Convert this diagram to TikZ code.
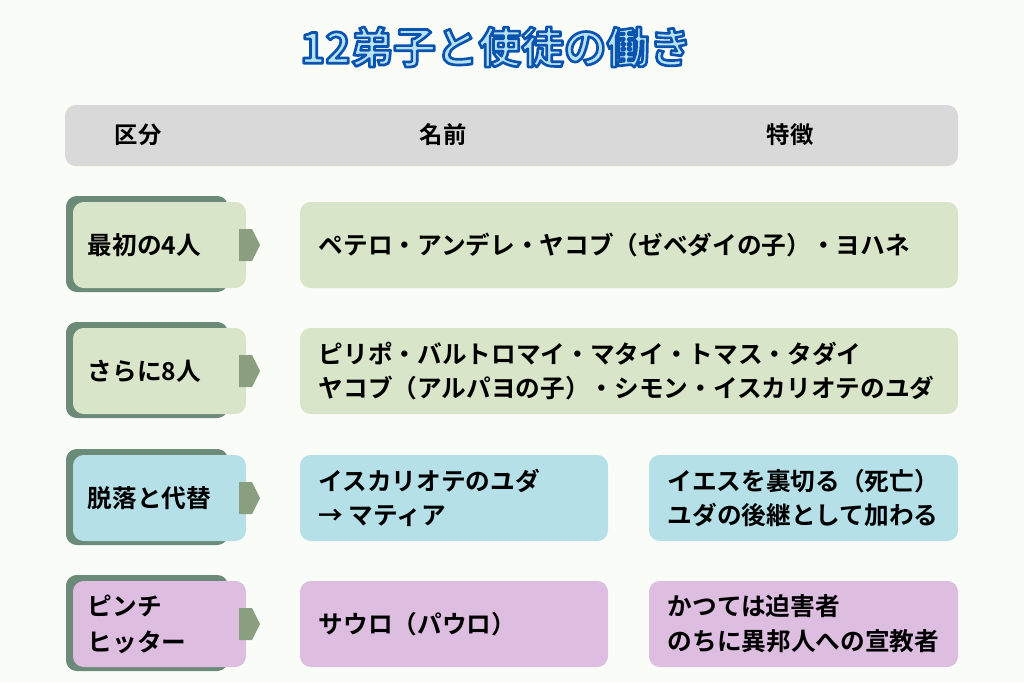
\documentclass[tikz,border=0pt]{standalone}
\usepackage{fontspec}
\setmainfont{Noto Sans CJK JP}[BoldFont={* Bold}]
\newfontfamily\cjk{Noto Sans CJK JP Bold}
\definecolor{bgc}{HTML}{FAFCF8}
\definecolor{headc}{HTML}{D9D9D9}
\definecolor{greenc}{HTML}{D9E5C8}
\definecolor{bluec}{HTML}{B5E0E8}
\definecolor{purplec}{HTML}{DDBDE0}
\definecolor{shadowc}{HTML}{6B8A78}
\definecolor{tabc}{HTML}{8A9E80}
\definecolor{titlelight}{HTML}{B8E2F2}
\newcommand{\outlined}[1]{\special{pdf:literal 2 Tr 2 w 1 j 0.04 0.33 0.69 RG}#1\special{pdf:literal 0 Tr 0 0 0 RG}}
\tikzset{
  box/.style={rounded corners=8pt, draw=none},
  label/.style={font=\cjk\fontsize{18.5}{26}\selectfont, anchor=west, align=left},
  tablabel/.style={font=\cjk\fontsize{18.5}{27}\selectfont, anchor=west, align=left},
}
\begin{document}
\begin{tikzpicture}[x=0.75pt, y=-0.75pt]
    % Background
    \fill [bgc] (0, 0) rectangle (1024, 682);
    \useasboundingbox (0, 0) rectangle (1024, 682);

    % Title
    \node [font=\cjk\fontsize{32}{36}\selectfont, titlelight] (title) at (496, 47) {\outlined{12弟子と使徒の働き}};

    % Header
    \fill [box, headc] (65, 105) rectangle (958, 166);
    \node [font=\cjk\fontsize{17.5}{20}\selectfont] (h1) at (138, 135) {区分};
    \node [font=\cjk\fontsize{17.5}{20}\selectfont] (h2) at (443, 135) {名前};
    \node [font=\cjk\fontsize{17.5}{20}\selectfont] (h3) at (790, 135) {特徴};

    % Rows: centre y / colour
    \foreach \y/\c in {245/greenc, 371/greenc, 498/bluec, 624/purplec} {
        \fill [box, shadowc] (66, \y-49) rectangle (228, \y+47);
        \fill [box, \c] (73, \y-43) rectangle (246, \y+43);
        \fill [tabc] (239, \y-16) -- (252, \y-16) -- (260, \y) -- (252, \y+16) -- (239, \y+16) -- cycle;
    }
    \fill [box, greenc] (300, 202) rectangle (958, 288);
    \fill [box, greenc] (300, 328) rectangle (958, 414);
    \fill [box, bluec] (300, 455) rectangle (608, 541);
    \fill [box, bluec] (649, 455) rectangle (958, 541);
    \fill [box, purplec] (300, 581) rectangle (608, 667);
    \fill [box, purplec] (649, 581) rectangle (958, 667);

    % Category labels
    \node [tablabel] (c1) at (83, 245) {最初の4人};
    \node [tablabel] (c2) at (83, 371) {さらに8人};
    \node [tablabel] (c3) at (83, 498) {脱落と代替};
    \node [tablabel] (c4) at (83, 624) {ピンチ\\ヒッター};

    % Names and notes
    \node [label] (n1) at (314, 245) {ペテロ・アンデレ・ヤコブ（ゼベダイの子）・ヨハネ};
    \node [label] (n2) at (314, 371) {ピリポ・バルトロマイ・マタイ・トマス・タダイ\\ヤコブ（アルパヨの子）・シモン・イスカリオテのユダ};
    \node [label] (n3) at (314, 498) {イスカリオテのユダ\\→ マティア};
    \node [label] (f3) at (663, 498) {イエスを裏切る（死亡）\\ユダの後継として加わる};
    \node [label] (n4) at (314, 624) {サウロ（パウロ）};
    \node [label] (f4) at (663, 624) {かつては迫害者\\のちに異邦人への宣教者};
\end{tikzpicture}
\end{document}
